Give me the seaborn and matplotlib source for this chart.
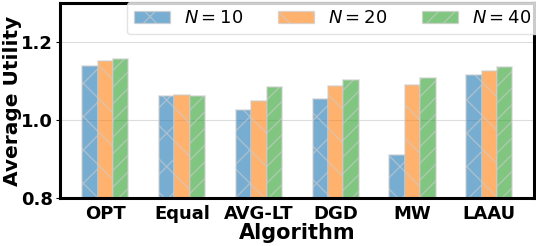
import matplotlib
matplotlib.use("Agg")
import matplotlib.pyplot as plt
import seaborn as sns
import pandas as pd

algorithms = ["OPT", "Equal", "AVG-LT", "DGD", "MW", "LAAU"]
n10 = [1.138, 1.061, 1.025, 1.054, 0.910, 1.115]
n20 = [1.150, 1.063, 1.048, 1.086, 1.090, 1.126]
n40 = [1.157, 1.062, 1.084, 1.102, 1.107, 1.135]
series = ["$N=10$", "$N=20$", "$N=40$"]

df = pd.DataFrame({
    "Algorithm": algorithms * 3,
    "Average Utility": n10 + n20 + n40,
    "N": [series[0]] * 6 + [series[1]] * 6 + [series[2]] * 6,
})

sns.set_style("ticks")
plt.rcParams["font.family"] = ["DejaVu Sans"]
plt.rcParams["hatch.color"] = "#bbbbbb"
plt.rcParams["hatch.linewidth"] = 1.0
# plain black text instead of seaborn's dark grey
for k in ["text.color", "axes.labelcolor", "xtick.color", "ytick.color"]:
    plt.rcParams[k] = "black"

colors = ["#1f77b4", "#ff7f0e", "#2ca02c"]
hatches = ["x", "\\", "//"]

fig, ax = plt.subplots(figsize=(5.36, 2.46), dpi=100)
sns.barplot(data=df, x="Algorithm", y="Average Utility", hue="N",
            palette=colors, saturation=1, width=0.6, alpha=0.6, ax=ax)

for cont, h in zip(ax.containers, hatches):
    for bar in cont:
        bar.set_hatch(h)
        bar.set_edgecolor("#cccccc")
        bar.set_linewidth(1.2)

ax.set_ylim(0.8, 1.3)
ax.set_xlim(-0.59, 5.58)
ax.set_yticks([0.8, 1.0, 1.2])
ax.yaxis.grid(True, color="#dddddd", linewidth=0.8)
ax.set_axisbelow(True)
for s in ax.spines.values():
    s.set_linewidth(2.2)
    s.set_color("black")

ax.set_xlabel("Algorithm", fontsize=15, fontweight="bold", labelpad=0)
ax.set_ylabel("Average Utility", fontsize=14.5, fontweight="bold")
ax.yaxis.set_label_coords(-0.080, 0.5)
for lab in ax.get_xticklabels() + ax.get_yticklabels():
    lab.set_fontweight("bold")
    lab.set_fontsize(13)
ax.tick_params(axis="x", length=0, pad=5)
ax.tick_params(axis="y", length=3, pad=2)

leg = ax.legend(ncol=3, loc="upper right", bbox_to_anchor=(1.01, 1.005),
                fontsize=13, handlelength=2.0, handletextpad=0.8,
                columnspacing=1.9, framealpha=0.8, edgecolor="#dddddd",
                fancybox=True, borderaxespad=0)
for p, h in zip(leg.get_patches(), hatches):
    p.set_hatch(h)
    p.set_edgecolor("#cccccc")

plt.subplots_adjust(left=0.112, right=0.996, top=0.988, bottom=0.195)
plt.savefig("out.png", dpi=100)
